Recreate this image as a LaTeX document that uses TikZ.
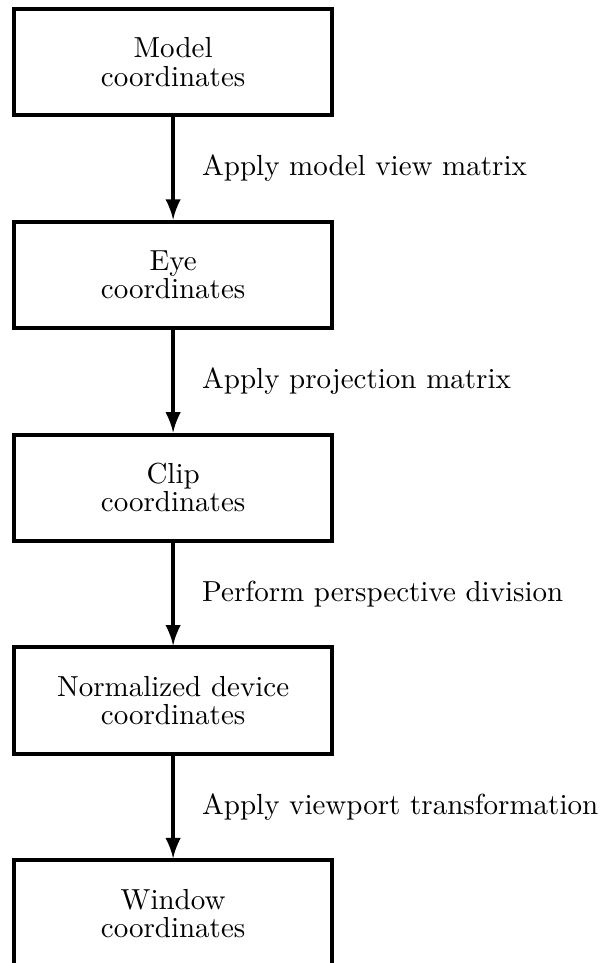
\documentclass[tikz,border=0pt]{standalone}
\usepackage{tikz}
\usetikzlibrary{positioning}

\begin{document}
\begin{tikzpicture}[
box/.style={rectangle, draw=black, fill=white, line width=1.4pt, minimum width=3.86cm, minimum height=1.29cm, align=center, font=\fontsize{10}{9.7}\selectfont},
label/.style={right=6pt, align=left},
>=latex
]
\useasboundingbox (-59.7pt,21.4pt) rectangle (147.6pt,-310.7pt);

\node[box](model){Model\\coordinates};
\node[box](eye)[below of = model, node distance=2.58cm]{Eye\\coordinates};
\node[box](clip)[below of = eye, node distance=2.58cm]{Clip\\coordinates};
\node[box](ndc)[below of = clip, node distance=2.58cm]{Normalized device\\coordinates};
\node[box](window)[below of = ndc, node distance=2.58cm]{Window\\coordinates};

\draw[->, line width=1.4pt] (model) -- (eye) node[label, midway](model_eye){Apply model view matrix};
\draw[->, line width=1.4pt] (eye) -- (clip) node[label, midway](eye_clip){Apply projection matrix};
\draw[->, line width=1.4pt] (clip) -- (ndc) node[label, midway](clip_ndc){Perform perspective division};
\draw[->, line width=1.4pt] (ndc) -- (window) node[label, midway](ndc_window){Apply viewport transformation};

\end{tikzpicture}
\end{document}
